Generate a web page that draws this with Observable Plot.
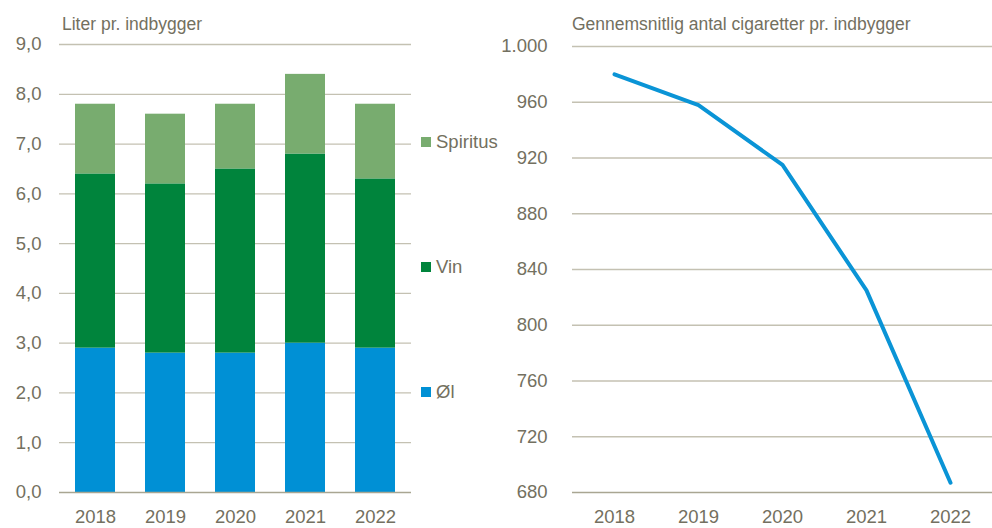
<!DOCTYPE html>
<html>
<head>
<meta charset="utf-8">
<script src="https://cdn.jsdelivr.net/npm/d3@7"></script>
<script src="https://cdn.jsdelivr.net/npm/@observablehq/plot@0.6"></script>
<style>
  body { margin: 0; background: #fff; }
  #wrap { position: relative; width: 992px; height: 528px; font-family: "Liberation Sans", Arial, sans-serif; color: #737060; overflow: hidden; }
  .title { position: absolute; font-size: 17.5px; white-space: nowrap; line-height: 1; }
  .leg { position: absolute; left: 421px; font-size: 18.5px; line-height: 1; display: flex; align-items: center; white-space: nowrap; }
  .leg span.sw { display: inline-block; width: 10px; height: 10px; margin-right: 5px; }
  #left, #right { position: absolute; top: 0; }
  svg { overflow: visible; }
</style>
</head>
<body>
<div id="wrap">
  <div id="left" style="left:0"></div>
  <div id="right" style="left:470px"></div>
  <div class="title" style="left:62px; top:16px;">Liter pr. indbygger</div>
  <div class="title" style="left:572px; top:16px;">Gennemsnitlig antal cigaretter pr. indbygger</div>
  <div id="legend"></div>
</div>
<script>
// ---- Data ----
const years = ["2018", "2019", "2020", "2021", "2022"];
const seriesNames = ["Øl", "Vin", "Spiritus"];
const ol = [2.9, 2.8, 2.8, 3.0, 2.9];
const vin = [3.5, 3.4, 3.7, 3.8, 3.4];
const spiritus = [1.4, 1.4, 1.3, 1.6, 1.5];
const cigarettes = [980, 958, 915, 825, 687];
const leftTicks = [0, 1, 2, 3, 4, 5, 6, 7, 8, 9];
const rightTicks = [680, 720, 760, 800, 840, 880, 920, 960, 1000];

// ---- Styles ----
const seriesColors = ["#0090d5", "#00843c", "#78ac6f"];
const textColor = "#737060";
const gridColor = "#c4c1b2";
const baseColor = "#a9a692";

const seriesValues = [ol, vin, spiritus];
const stacked = [];
years.forEach((y, i) => {
  seriesNames.forEach((s, j) => stacked.push({year: y, type: s, value: seriesValues[j][i]}));
});
const cigData = years.map((y, i) => ({year: y, value: cigarettes[i]}));

const da = d3.formatLocale({decimal: ",", thousands: ".", grouping: [3], currency: ["", ""]});
const fmtLeft = da.format(".1f");
const fmtRight = da.format(",d");

const left = Plot.plot({
  width: 520, height: 528,
  marginLeft: 59, marginRight: 109, marginTop: 44, marginBottom: 36,
  style: {fontFamily: "Liberation Sans, Arial, sans-serif", fontSize: "18.5px", color: textColor, background: "transparent"},
  x: {domain: years, type: "band", paddingInner: 0.43, paddingOuter: 0.215, label: null},
  y: {domain: [0, 9], label: null},
  color: {domain: seriesNames, range: seriesColors},
  marks: [
    Plot.ruleY(leftTicks.filter(d => d > 0), {stroke: gridColor, strokeWidth: 1.3}),
    Plot.barY(stacked, {x: "year", y: "value", fill: "type"}),
    Plot.ruleY([0], {stroke: baseColor, strokeWidth: 1.5}),
    Plot.axisY({ticks: leftTicks, tickFormat: fmtLeft, tickSize: 0, tickPadding: 18, label: null, fill: textColor}),
    Plot.axisX({tickSize: 0, tickPadding: 17, label: null, fill: textColor})
  ]
});
document.getElementById("left").appendChild(left);

const right = Plot.plot({
  width: 522, height: 528,
  marginLeft: 102, marginRight: 0, marginTop: 46, marginBottom: 36,
  style: {fontFamily: "Liberation Sans, Arial, sans-serif", fontSize: "18.5px", color: textColor, background: "transparent"},
  x: {domain: years, type: "point", padding: 0.5, label: null},
  y: {domain: [680, 1000], label: null},
  marks: [
    Plot.ruleY(rightTicks.filter(d => d > 680), {stroke: gridColor, strokeWidth: 1.3}),
    Plot.ruleY([680], {stroke: baseColor, strokeWidth: 1.5}),
    Plot.lineY(cigData, {x: "year", y: "value", stroke: "#0a94d6", strokeWidth: 4, strokeLinecap: "round", strokeLinejoin: "round"}),
    Plot.axisY({ticks: rightTicks, tickFormat: fmtRight, tickSize: 0, tickPadding: 25, label: null, fill: textColor}),
    Plot.axisX({tickSize: 0, tickPadding: 17, label: null, fill: textColor})
  ]
});
document.getElementById("right").appendChild(right);

// Legend (HTML), top-to-bottom reversed series order
const legendTops = {"Spiritus": 133, "Vin": 258, "Øl": 383};
const legend = document.getElementById("legend");
seriesNames.slice().reverse().forEach(name => {
  const i = seriesNames.indexOf(name);
  const div = document.createElement("div");
  div.className = "leg";
  div.style.top = legendTops[name] + "px";
  div.innerHTML = `<span class="sw" style="background:${seriesColors[i]}"></span>${name}`;
  legend.appendChild(div);
});
</script>
</body>
</html>
